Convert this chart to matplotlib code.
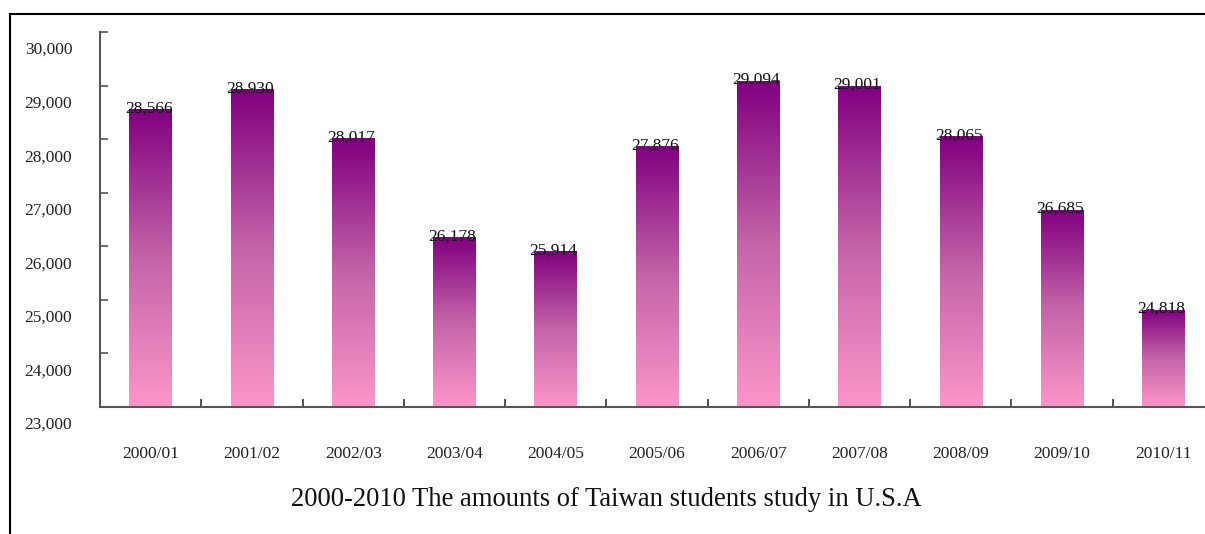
import numpy as np
import matplotlib
matplotlib.use("Agg")
import matplotlib.pyplot as plt
from matplotlib.colors import LinearSegmentedColormap
from matplotlib.lines import Line2D
from matplotlib.transforms import ScaledTranslation

# Taiwanese students enrolled in the U.S., by academic year
years = ["2000/01", "2001/02", "2002/03", "2003/04", "2004/05", "2005/06",
         "2006/07", "2007/08", "2008/09", "2009/10", "2010/11"]
students = [28566, 28930, 28017, 26178, 25914, 27876,
            29094, 29001, 28065, 26685, 24818]
y_ticks = [23000, 24000, 25000, 26000, 27000, 28000, 29000, 30000]

plt.rcParams["font.family"] = ["Liberation Serif", "DejaVu Serif"]

fig = plt.figure(figsize=(12.05, 5.34), dpi=100)
ax = fig.add_axes([0.083, 0.2378, 0.9245, 0.7022])

# pink at the base fading to purple at the top of each bar
cmap = LinearSegmentedColormap.from_list(
    "purple_pink", [(0.0, "#fc95c9"), (0.5, "#c464a8"), (1.0, "#800080")])
grad = np.linspace(0, 1, 256).reshape(-1, 1)

x = np.arange(len(years))
ymin, ymax = y_ticks[0], y_ticks[-1]
bars = ax.bar(x, students, width=0.42, color="none", edgecolor="none", zorder=2)
for bar in bars:
    x0 = bar.get_x()
    x1 = x0 + bar.get_width()
    top = bar.get_height()
    im = ax.imshow(grad, extent=[x0, x1, ymin, top], origin="lower",
                   aspect="auto", cmap=cmap, zorder=2)
    im.set_clip_path(bar)

for xi, v in zip(x, students):
    ax.annotate(f"{v:,}", (xi, v), xytext=(-1.5, -2.5), textcoords="offset points",
                ha="center", va="baseline", fontsize=12.5, color="#111111", zorder=3)

ax.set_xlim(-0.5, len(years) - 0.5)
ax.set_ylim(ymin, ymax)

ax.set_xticks(x)
ax.set_xticklabels(years, fontsize=12.5, color="#222222")
ax.set_xticks(x[:-1] + 0.5, minor=True)
ax.tick_params(axis="x", which="major", length=0, pad=28)
ax.tick_params(axis="x", which="minor", direction="in", length=5.5,
               width=1.2, color="#333333")

ax.set_yticks(y_ticks)
ax.set_yticklabels([f"{t:,}" for t in y_ticks], fontsize=12.5, color="#222222")
ax.tick_params(axis="y", direction="in", length=6, width=1.2,
               color="#555555", pad=20)
shift = ScaledTranslation(0, -0.16, fig.dpi_scale_trans)
for lab in ax.get_yticklabels():
    lab.set_transform(lab.get_transform() + shift)

for side in ["top", "right"]:
    ax.spines[side].set_visible(False)
for side in ["left", "bottom"]:
    ax.spines[side].set_color("#555555")
    ax.spines[side].set_linewidth(1.5)

fig.text(0.503, 0.064, "2000-2010 The amounts of Taiwan students study in U.S.A",
         ha="center", va="center", fontsize=19.2, color="#111111")

# outer frame
fig.add_artist(Line2D([0.0083, 1.0], [0.9738, 0.9738], color="black", lw=1.5,
                      transform=fig.transFigure))
fig.add_artist(Line2D([0.0083, 0.0083], [0.0, 0.9738], color="black", lw=1.5,
                      transform=fig.transFigure))

fig.savefig("out.png", dpi=100)
